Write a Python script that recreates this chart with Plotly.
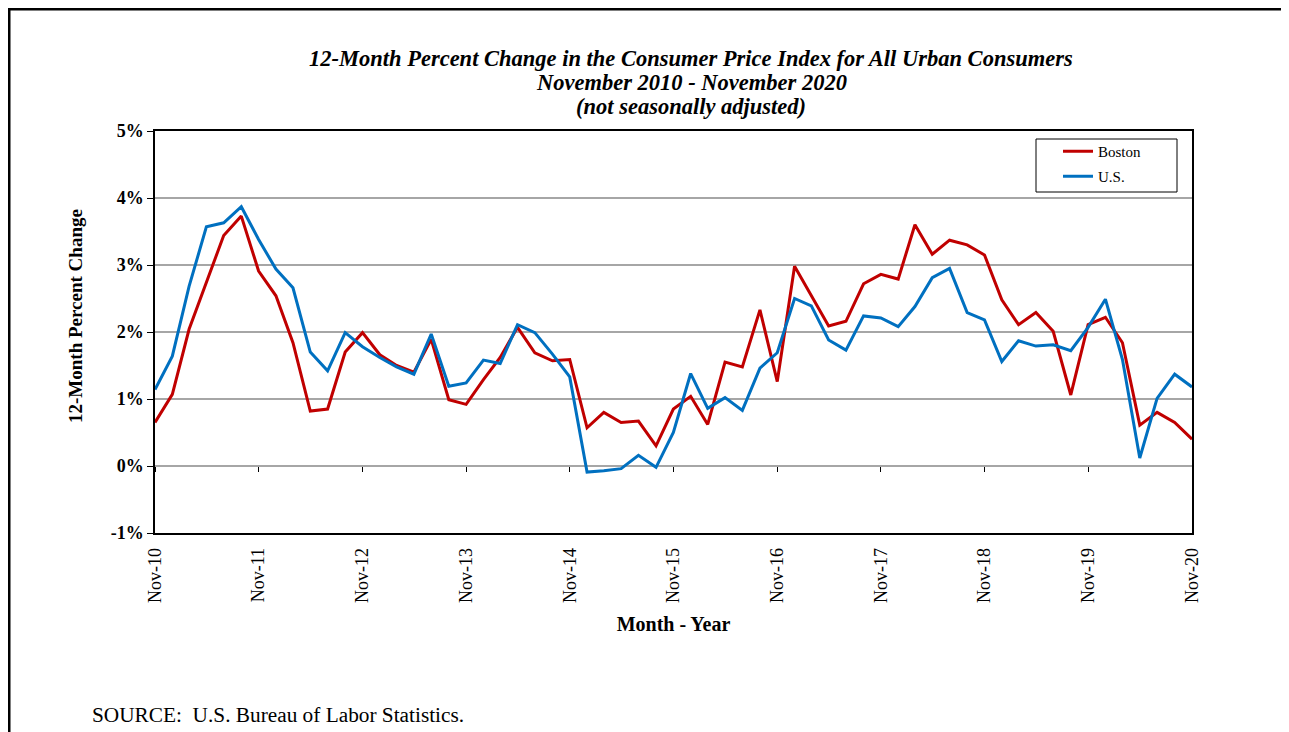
'''
    Line chart of the 12-month percent change in the CPI-U,
    Boston vs. U.S., November 2010 - November 2020 (bimonthly).
'''
import pandas as pd
import plotly.graph_objects as go

# bimonthly observations, Nov-10 .. Nov-20
months = pd.date_range('2010-11-01', '2020-11-01', freq='2MS')

boston = [0.65, 1.07, 2.04, 2.74, 3.44, 3.73, 2.91, 2.54, 1.84, 0.82,
          0.85, 1.70, 1.99, 1.66, 1.50, 1.40, 1.89, 0.99, 0.92, 1.29,
          1.62, 2.07, 1.69, 1.57, 1.59, 0.57, 0.80, 0.65, 0.67, 0.30,
          0.85, 1.04, 0.62, 1.55, 1.48, 2.33, 1.26, 2.98, 2.54, 2.09,
          2.16, 2.72, 2.86, 2.79, 3.60, 3.16, 3.37, 3.30, 3.15, 2.48,
          2.11, 2.29, 2.01, 1.06, 2.11, 2.22, 1.84, 0.61, 0.80, 0.65,
          0.40]

us = [1.14, 1.64, 2.68, 3.57, 3.63, 3.87, 3.38, 2.94, 2.66, 1.70,
      1.42, 1.99, 1.78, 1.62, 1.48, 1.37, 1.97, 1.19, 1.24, 1.58,
      1.53, 2.11, 1.99, 1.67, 1.33, -0.09, -0.07, -0.04, 0.16, -0.02,
      0.50, 1.38, 0.86, 1.02, 0.83, 1.46, 1.69, 2.50, 2.39, 1.88,
      1.73, 2.24, 2.21, 2.08, 2.38, 2.81, 2.95, 2.29, 2.18, 1.56,
      1.87, 1.79, 1.81, 1.72, 2.07, 2.49, 1.59, 0.12, 1.01, 1.37,
      1.18]

x_tick_dates = pd.date_range('2010-11-01', '2020-11-01', freq='12MS')
x_tick_labels = ['Nov-10', 'Nov-11', 'Nov-12', 'Nov-13', 'Nov-14', 'Nov-15',
                 'Nov-16', 'Nov-17', 'Nov-18', 'Nov-19', 'Nov-20']
y_tick_values = [-1, 0, 1, 2, 3, 4, 5]
y_tick_labels = ['-1%', '0%', '1%', '2%', '3%', '4%', '5%']

title_lines = ['12-Month Percent Change in the Consumer Price Index for All Urban Consumers',
               'November 2010 - November 2020',
               '(not seasonally adjusted)']

FONT = 'Liberation Serif, Times New Roman, serif'
RED = '#C00000'
BLUE = '#0070C0'
GRID = '#A6A6A6'

# the page body adds an 8px margin, so the figure starts at (8, 8)
OFF = 8
W, H = 1289 - OFF, 732 - OFF
L, R, T, B = 155 - OFF, 97, 131 - OFF, 199


def px_x(sx):
    '''Screen column -> paper x.'''
    return (sx - OFF - L) / (W - L - R)


def px_y(sy):
    '''Screen row -> paper y.'''
    return (H - B - (sy - OFF)) / (H - T - B)


fig = go.Figure()
fig.add_trace(go.Scatter(x=months, y=boston, name='Boston', mode='lines',
                         line=dict(color=RED, width=3), legendgroup='b'))
fig.add_trace(go.Scatter(x=months, y=us, name='U.S.', mode='lines',
                         line=dict(color=BLUE, width=3), legendgroup='u'))
# empty trace so the overlaid tick axis (x2) gets drawn
fig.add_trace(go.Scatter(x=[], y=[], xaxis='x2', showlegend=False,
                         hoverinfo='skip'))

x_range = [months[0], months[-1]]

annotations = [
    dict(text=f'<b><i>{line}</i></b>', xref='paper', yref='paper',
         x=px_x(691), y=px_y(58 + 24 * i), xanchor='center', yanchor='middle',
         showarrow=False, font=dict(size=22.5))
    for i, line in enumerate(title_lines)
]
annotations += [
    dict(text='<b>12-Month Percent Change</b>', textangle=-90,
         xref='paper', yref='paper', x=px_x(75), y=px_y(316),
         xanchor='center', yanchor='middle', showarrow=False,
         font=dict(size=19)),
    dict(text='SOURCE:  U.S. Bureau of Labor Statistics.',
         xref='paper', yref='paper', x=px_x(90), y=px_y(715),
         xanchor='left', yanchor='middle', showarrow=False,
         font=dict(size=21.3)),
]

fig.update_layout(
    width=W, height=H,
    margin=dict(l=L, r=R, t=T, b=B),
    paper_bgcolor='white', plot_bgcolor='white',
    font=dict(family=FONT, color='black'),
    xaxis=dict(
        type='date', range=x_range,
        tickvals=x_tick_dates, ticktext=x_tick_labels,
        tickangle=-90, tickfont=dict(size=18), ticklabelstandoff=6,
        ticks='', showgrid=False, zeroline=False,
        showline=True, linecolor='black', linewidth=1.5, mirror=True,
        title=dict(text='<b>Month - Year</b>', font=dict(size=20), standoff=15),
    ),
    # tick marks sit on the 0% line, as in the original
    xaxis2=dict(
        type='date', range=x_range, overlaying='x',
        anchor='free', position=1 / 6, side='bottom',
        tickvals=x_tick_dates, ticks='outside', ticklen=5,
        tickcolor='black', tickwidth=1,
        showticklabels=False, showgrid=False, showline=False, zeroline=False,
    ),
    yaxis=dict(
        range=[-1, 5], tickvals=y_tick_values, ticktext=y_tick_labels,
        tickfont=dict(size=18, weight='bold'),
        ticks='outside', ticklen=6, tickcolor='black',
        showgrid=True, gridcolor=GRID, gridwidth=1.5,
        zeroline=True, zerolinecolor=GRID, zerolinewidth=1.5,
        showline=True, linecolor='black', linewidth=1.5, mirror=True,
    ),
    # legend box is drawn as a shape below, so it can be as wide as the original
    legend=dict(
        x=px_x(1036), y=px_y(135), xanchor='left', yanchor='top',
        bgcolor='rgba(0,0,0,0)', borderwidth=0,
        font=dict(size=15), traceorder='grouped', tracegroupgap=2.5,
        indentation=22,
    ),
    annotations=annotations,
    shapes=[
        dict(type='rect', xref='paper', yref='paper', layer='above',
             x0=px_x(1036), x1=px_x(1177), y0=px_y(192), y1=px_y(139),
             fillcolor='white', line=dict(color='black', width=1)),
        # outer frame of the original page (top and left edges visible)
        dict(type='line', xref='paper', yref='paper',
             x0=px_x(9), x1=px_x(9), y0=px_y(8), y1=px_y(760),
             line=dict(color='black', width=3)),
        dict(type='line', xref='paper', yref='paper',
             x0=px_x(8), x1=px_x(1300), y0=px_y(9), y1=px_y(9),
             line=dict(color='black', width=3)),
    ],
)

fig.write_html('out.html')
